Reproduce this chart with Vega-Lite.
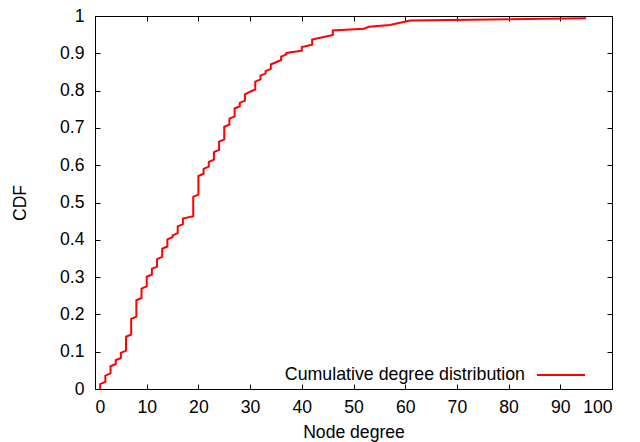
{
  "$schema": "https://vega.github.io/schema/vega-lite/v6.json",
  "autosize": "none",
  "width": 517,
  "height": 373,
  "padding": {"left": 95, "top": 16, "right": 28, "bottom": 53},
  "background": "white",
  "config": {
    "font": "Liberation Sans",
    "view": {"stroke": null},
    "axis": {
      "grid": false,
      "domainColor": "#000000",
      "domainWidth": 1,
      "tickColor": "#000000",
      "tickWidth": 1,
      "tickSize": -5,
      "labelFont": "Liberation Sans",
      "labelFontSize": 17.6,
      "labelColor": "#000000",
      "titleFont": "Liberation Sans",
      "titleFontSize": 17.6,
      "titleFontWeight": "normal",
      "titleColor": "#000000"
    },
    "legend": {
      "labelFont": "Liberation Sans",
      "labelFontSize": 17.8,
      "labelColor": "#000000",
      "labelLimit": 0
    }
  },
  "data": {
    "values": [
      {"degree": 1, "cdf": 0.0}, {"degree": 1, "cdf": 0.013},
      {"degree": 2, "cdf": 0.019}, {"degree": 2, "cdf": 0.036},
      {"degree": 3, "cdf": 0.042}, {"degree": 3, "cdf": 0.061},
      {"degree": 4, "cdf": 0.067}, {"degree": 4, "cdf": 0.077},
      {"degree": 5, "cdf": 0.083}, {"degree": 5, "cdf": 0.097},
      {"degree": 6, "cdf": 0.103}, {"degree": 6, "cdf": 0.140},
      {"degree": 7, "cdf": 0.146}, {"degree": 7, "cdf": 0.188},
      {"degree": 8, "cdf": 0.194}, {"degree": 8, "cdf": 0.238},
      {"degree": 9, "cdf": 0.244}, {"degree": 9, "cdf": 0.269},
      {"degree": 10, "cdf": 0.275}, {"degree": 10, "cdf": 0.301},
      {"degree": 11, "cdf": 0.307}, {"degree": 11, "cdf": 0.322},
      {"degree": 12, "cdf": 0.328}, {"degree": 12, "cdf": 0.348},
      {"degree": 13, "cdf": 0.354}, {"degree": 13, "cdf": 0.376},
      {"degree": 14, "cdf": 0.382}, {"degree": 14, "cdf": 0.401},
      {"degree": 15, "cdf": 0.407}, {"degree": 15, "cdf": 0.412},
      {"degree": 16, "cdf": 0.418}, {"degree": 16, "cdf": 0.436},
      {"degree": 17, "cdf": 0.442}, {"degree": 17, "cdf": 0.457},
      {"degree": 19, "cdf": 0.463}, {"degree": 19, "cdf": 0.515},
      {"degree": 20, "cdf": 0.521}, {"degree": 20, "cdf": 0.571},
      {"degree": 21, "cdf": 0.577}, {"degree": 21, "cdf": 0.590},
      {"degree": 22, "cdf": 0.596}, {"degree": 22, "cdf": 0.609},
      {"degree": 23, "cdf": 0.615}, {"degree": 23, "cdf": 0.635},
      {"degree": 24, "cdf": 0.641}, {"degree": 24, "cdf": 0.663},
      {"degree": 25, "cdf": 0.669}, {"degree": 25, "cdf": 0.703},
      {"degree": 26, "cdf": 0.709}, {"degree": 26, "cdf": 0.725},
      {"degree": 27, "cdf": 0.731}, {"degree": 27, "cdf": 0.752},
      {"degree": 28, "cdf": 0.758}, {"degree": 28, "cdf": 0.767},
      {"degree": 29, "cdf": 0.773}, {"degree": 29, "cdf": 0.790},
      {"degree": 30, "cdf": 0.797},
      {"degree": 31, "cdf": 0.803}, {"degree": 31, "cdf": 0.824},
      {"degree": 32, "cdf": 0.830}, {"degree": 32, "cdf": 0.840},
      {"degree": 33, "cdf": 0.846}, {"degree": 33, "cdf": 0.852},
      {"degree": 34, "cdf": 0.858}, {"degree": 34, "cdf": 0.870},
      {"degree": 35, "cdf": 0.876},
      {"degree": 36, "cdf": 0.882}, {"degree": 36, "cdf": 0.891},
      {"degree": 37, "cdf": 0.897}, {"degree": 37, "cdf": 0.901},
      {"degree": 40, "cdf": 0.907}, {"degree": 40, "cdf": 0.917},
      {"degree": 42, "cdf": 0.923}, {"degree": 42, "cdf": 0.937},
      {"degree": 44, "cdf": 0.943},
      {"degree": 46, "cdf": 0.949}, {"degree": 46, "cdf": 0.961},
      {"degree": 52, "cdf": 0.966},
      {"degree": 53, "cdf": 0.971},
      {"degree": 57, "cdf": 0.976},
      {"degree": 59, "cdf": 0.982},
      {"degree": 61, "cdf": 0.988},
      {"degree": 95, "cdf": 0.994}
    ]
  },
  "layer": [
    {
      "mark": {"type": "line", "strokeWidth": 2},
      "encoding": {
        "x": {
          "field": "degree", "type": "quantitative",
          "scale": {"domain": [0, 100], "nice": false, "zero": false},
          "axis": {"orient": "bottom", "values": [0,10,20,30,40,50,60,70,80,90,100], "labelPadding": 14, "title": "Node degree", "titlePadding": 8}
        },
        "y": {
          "field": "cdf", "type": "quantitative",
          "scale": {"domain": [0, 1], "nice": false},
          "axis": {"orient": "left", "values": [0,0.1,0.2,0.3,0.4,0.5,0.6,0.7,0.8,0.9,1], "format": ".1~f", "labelPadding": 16, "title": "CDF", "titlePadding": 30}
        },
        "order": {"field": "cdf"},
        "color": {
          "datum": "Cumulative degree distribution",
          "scale": {"range": ["#ff0000"]},
          "legend": {
            "title": null,
            "orient": "none",
            "legendX": 441,
            "legendY": 334,
            "padding": 0,
            "symbolType": "stroke",
            "symbolSize": 2304,
            "symbolStrokeWidth": 2,
            "labelAlign": "right",
            "labelOffset": -61
          }
        }
      }
    },
    {
      "mark": {"type": "line", "opacity": 0},
      "encoding": {
        "x": {
          "field": "degree", "type": "quantitative",
          "axis": {"orient": "top", "values": [0,10,20,30,40,50,60,70,80,90,100], "labels": false, "title": null}
        },
        "y": {
          "field": "cdf", "type": "quantitative",
          "axis": {"orient": "right", "values": [0,0.1,0.2,0.3,0.4,0.5,0.6,0.7,0.8,0.9,1], "labels": false, "title": null}
        },
        "order": {"field": "cdf"}
      }
    }
  ],
  "resolve": {"axis": {"x": "independent", "y": "independent"}}
}
